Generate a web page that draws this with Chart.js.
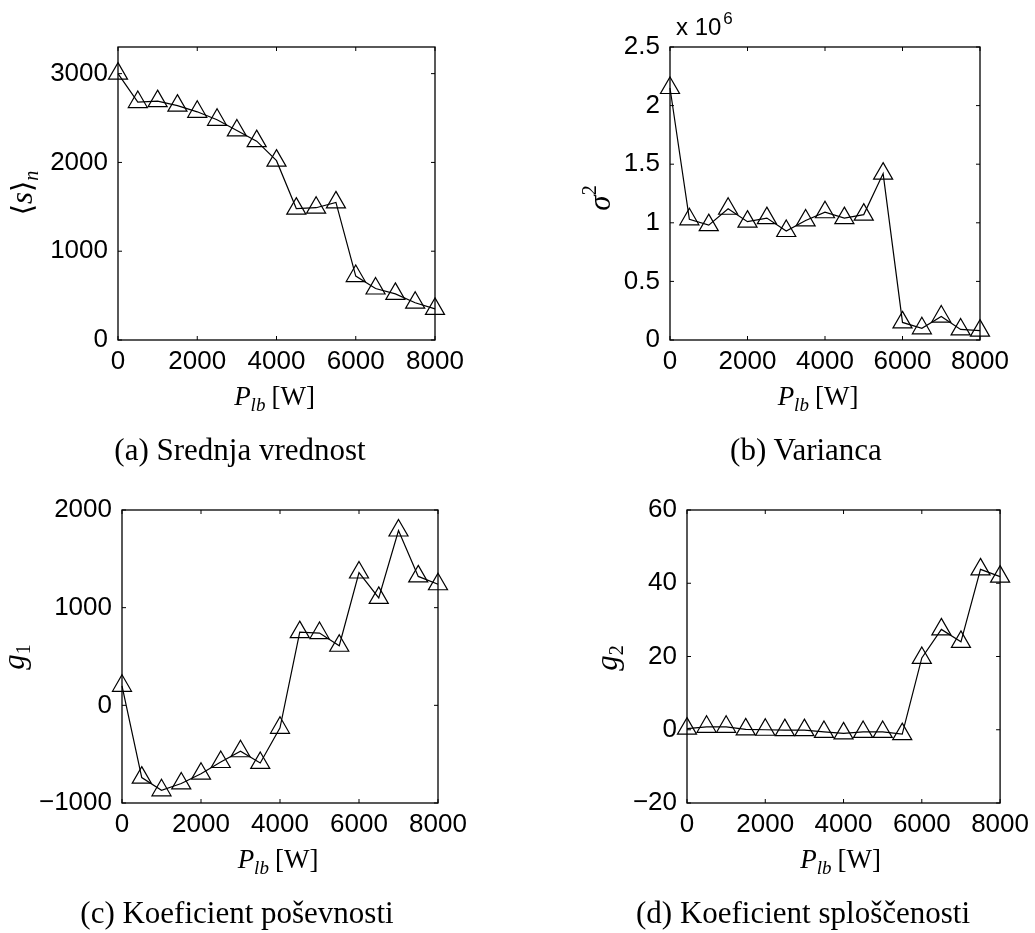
<!DOCTYPE html>
<html>
<head>
<meta charset="utf-8">
<script src="https://cdn.jsdelivr.net/npm/chart.js@4.4.1/dist/chart.umd.min.js"></script>
<style>
  body { margin: 0; background: #fff; }
  #page { position: relative; width: 1035px; height: 933px; }
  #page canvas { position: absolute; left: 0; top: 0; }
  .caption {
    position: absolute; width: 500px; text-align: center;
    font-family: "Liberation Serif", serif; font-size: 31px; line-height: 31px; color: #000;
  }
</style>
</head>
<body>
<div id="page">
  <canvas id="chartA" width="1035" height="933"></canvas>
  <canvas id="chartB" width="1035" height="933"></canvas>
  <canvas id="chartC" width="1035" height="933"></canvas>
  <canvas id="chartD" width="1035" height="933"></canvas>
  <div class="caption" style="left: -10px; top: 434px;">(a) Srednja vrednost</div>
  <div class="caption" style="left: 556px; top: 434px;">(b) Varianca</div>
  <div class="caption" style="left: -13px; top: 897px;">(c) Koeficient poševnosti</div>
  <div class="caption" style="left: 553px; top: 897px;">(d) Koeficient sploščenosti</div>
</div>
<script>
// P_lb [W]
const powerLevels = [0, 500, 1000, 1500, 2000, 2500, 3000, 3500, 4000, 4500, 5000, 5500, 6000, 6500, 7000, 7500, 8000];
const meanValues = [3000, 2680, 2690, 2640, 2570, 2480, 2360, 2240, 2020, 1480, 1490, 1550, 720, 580, 520, 420, 350];
const varianceValues = [2150000, 1030000, 980000, 1120000, 1010000, 1040000, 930000, 1020000, 1090000, 1040000, 1070000, 1420000, 150000, 100000, 200000, 90000, 80000];
const skewValues = [200, -740, -870, -800, -700, -580, -470, -590, -230, 750, 740, 610, 1360, 1100, 1790, 1320, 1240];
const kurtosisValues = [0.3, 0.8, 0.8, 0.1, 0, -0.1, -0.1, -0.6, -1.0, -0.6, -0.6, -1.2, 19.6, 27.4, 24.0, 43.8, 41.8];

const xTicks = [0, 2000, 4000, 6000, 8000];
const meanTicks = [0, 1000, 2000, 3000];
const varianceTicks = [0, 500000, 1000000, 1500000, 2000000, 2500000];
const skewTicks = [-1000, 0, 1000, 2000];
const kurtosisTicks = [-20, 0, 20, 40, 60];

const W = 1035, H = 933;
const Y_AXIS_W = 100, X_AXIS_H = 50;
const tickFont = { family: '"Liberation Sans", Arial, sans-serif', size: 26 };

function fmt(v) {
    return String(v).replace('-', '\u2212');
}

// draw text made of pieces (for sub/superscripts), centred on cx, baseline at by
function drawRich(ctx, parts, cx, by, rotated) {
    ctx.save();
    ctx.translate(cx, by);
    if (rotated) ctx.rotate(-Math.PI / 2);
    ctx.fillStyle = '#000';
    ctx.textBaseline = 'alphabetic';
    ctx.textAlign = 'left';
    let total = 0;
    parts.forEach(p => { ctx.font = p.font; total += ctx.measureText(p.text).width + (p.gap || 0); });
    let x = -total / 2;
    parts.forEach(p => {
        ctx.font = p.font;
        ctx.fillText(p.text, x, p.dy || 0);
        x += ctx.measureText(p.text).width + (p.gap || 0);
    });
    ctx.restore();
}

const matlabFrame = {
    id: 'matlabFrame',
    beforeDatasetsDraw(chart) {
        const ctx = chart.ctx;
        const a = chart.chartArea;
        const len = 4;
        ctx.save();
        ctx.strokeStyle = '#000';
        ctx.lineWidth = 1.3;
        ctx.strokeRect(a.left, a.top, a.right - a.left, a.bottom - a.top);
        ctx.lineWidth = 1;
        ctx.beginPath();
        chart.scales.x.ticks.forEach(t => {
            const px = chart.scales.x.getPixelForValue(t.value);
            ctx.moveTo(px, a.bottom); ctx.lineTo(px, a.bottom - len);
            ctx.moveTo(px, a.top); ctx.lineTo(px, a.top + len);
        });
        chart.scales.y.ticks.forEach(t => {
            const py = chart.scales.y.getPixelForValue(t.value);
            ctx.moveTo(a.left, py); ctx.lineTo(a.left + len, py);
            ctx.moveTo(a.right, py); ctx.lineTo(a.right - len, py);
        });
        ctx.stroke();
        ctx.restore();
    },
    afterDraw(chart, args, opts) {
        const ctx = chart.ctx;
        const a = chart.chartArea;
        const it = 'italic 27px "Liberation Serif", serif';
        const sub = 'italic 19px "Liberation Serif", serif';
        drawRich(ctx, [
            { text: 'P', font: it },
            { text: 'lb', font: sub, dy: 6, gap: 6 },
            { text: '[W]', font: '27px "Liberation Serif", serif' }
        ], (a.left + a.right) / 2 + opts.xTitleShift, a.bottom + 65, false);
        drawRich(ctx, opts.yTitle, opts.yTitleX, opts.yTitleY, true);
        if (opts.exponent) {
            ctx.save();
            ctx.fillStyle = '#000';
            ctx.font = '24px "Liberation Sans", Arial, sans-serif';
            ctx.fillText('x 10', a.left + 6, 35);
            const w = ctx.measureText('x 10').width;
            ctx.font = '17px "Liberation Sans", Arial, sans-serif';
            ctx.fillText('6', a.left + 8 + w, 24);
            ctx.restore();
        }
    }
};

function makeChart(id, values, yTicks, yMin, yMax, area, frameOpts, tickFormat) {
    const points = powerLevels.map((x, i) => ({ x: x, y: values[i] }));
    return new Chart(document.getElementById(id), {
        type: 'line',
        data: {
            datasets: [{
                data: points,
                borderColor: '#000',
                borderWidth: 1.2,
                tension: 0,
                pointStyle: 'triangle',
                pointRadius: 11,
                pointBorderWidth: 1.2,
                pointBorderColor: '#000',
                pointBackgroundColor: 'rgba(0,0,0,0)',
                clip: false
            }]
        },
        options: {
            responsive: false,
            animation: false,
            events: [],
            layout: {
                padding: {
                    left: area.left - Y_AXIS_W,
                    right: W - area.right,
                    top: area.top,
                    bottom: H - area.bottom - X_AXIS_H
                }
            },
            plugins: {
                legend: { display: false },
                tooltip: { enabled: false },
                matlabFrame: frameOpts
            },
            scales: {
                x: {
                    type: 'linear',
                    min: 0,
                    max: 8000,
                    afterFit: s => { s.height = X_AXIS_H; },
                    afterBuildTicks: s => { s.ticks = xTicks.map(v => ({ value: v })); },
                    grid: { display: false, drawTicks: false },
                    border: { display: false },
                    ticks: { color: '#000', font: tickFont, padding: 6, maxRotation: 0, autoSkip: false,
                             callback: v => fmt(v) }
                },
                y: {
                    min: yMin,
                    max: yMax,
                    afterFit: s => { s.width = Y_AXIS_W; },
                    afterBuildTicks: s => { s.ticks = yTicks.map(v => ({ value: v })); },
                    grid: { display: false, drawTicks: false },
                    border: { display: false },
                    ticks: { color: '#000', font: tickFont, padding: 10, autoSkip: false,
                             callback: tickFormat || (v => fmt(v)) }
                }
            }
        },
        plugins: [matlabFrame]
    });
}

const titleIt = 'italic 31px "Liberation Serif", serif';
const titleSub = 'italic 20px "Liberation Serif", serif';
const bracket = '29px "DejaVu Serif", serif';

makeChart('chartA', meanValues, meanTicks, 0, 3300,
    { left: 118, right: 435, top: 47, bottom: 340 },
    { xTitleShift: -2, yTitleX: 32, yTitleY: 193, yTitle: [
        { text: '\u27E8', font: bracket },
        { text: 's', font: titleIt },
        { text: '\u27E9', font: bracket },
        { text: 'n', font: titleSub, dy: 6 }
    ] });

makeChart('chartB', varianceValues, varianceTicks, 0, 2500000,
    { left: 670, right: 980, top: 47, bottom: 340 },
    { xTitleShift: -7, exponent: true, yTitleX: 610, yTitleY: 198, yTitle: [
        { text: '\u03C3', font: titleIt },
        { text: '2', font: '20px "Liberation Serif", serif', dy: -14, gap: 0 }
    ] },
    v => fmt(Math.round(v / 100000) / 10));

makeChart('chartC', skewValues, skewTicks, -1000, 2000,
    { left: 122, right: 438, top: 510, bottom: 803 },
    { xTitleShift: -2, yTitleX: 24, yTitleY: 657, yTitle: [
        { text: 'g', font: titleIt },
        { text: '1', font: '20px "Liberation Serif", serif', dy: 6 }
    ] });

makeChart('chartD', kurtosisValues, kurtosisTicks, -20, 60,
    { left: 687, right: 1003, top: 510, bottom: 803 },
    { xTitleShift: -3, yTitleX: 617, yTitleY: 658, yTitle: [
        { text: 'g', font: titleIt },
        { text: '2', font: '20px "Liberation Serif", serif', dy: 6 }
    ] });
</script>
</body>
</html>
